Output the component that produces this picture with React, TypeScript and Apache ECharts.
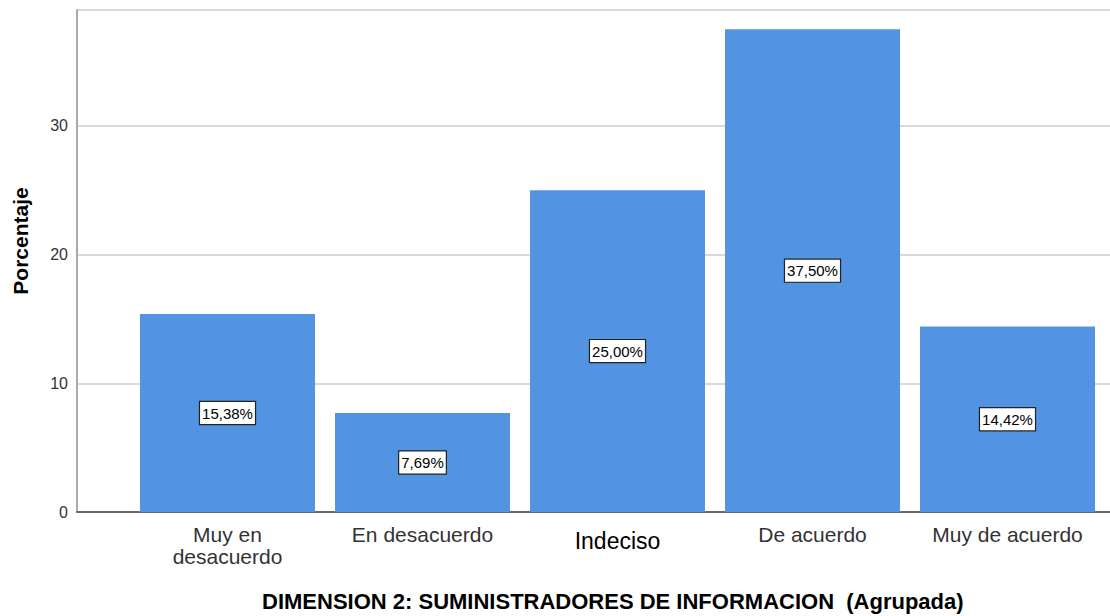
import React, { useEffect, useRef } from "react";
import * as echarts from "echarts";

const categories = ["Muy en\ndesacuerdo", "En desacuerdo", "Indeciso", "De acuerdo", "Muy de acuerdo"];
const values = [15.38, 7.69, 25.0, 37.5, 14.42];
const labels = ["15,38%", "7,69%", "25,00%", "37,50%", "14,42%"];
const yTicks = [0, 10, 20, 30];
const titleText = "DIMENSION 2: SUMINISTRADORES DE INFORMACION  (Agrupada)";
const yName = "Porcentaje";

export default function App() {
  const ref = useRef<HTMLDivElement>(null);
  useEffect(() => {
    if (!ref.current) return;
    const chart = echarts.init(ref.current, null, { renderer: "svg" });
    const font = "'Liberation Sans', Arial, sans-serif";
    chart.setOption({
      animation: false,
      textStyle: { fontFamily: font },
      title: {
        text: titleText,
        left: 262,
        top: 590,
        padding: 0,
        textStyle: { fontSize: 22, fontWeight: "bold", color: "#000", fontFamily: font },
      },
      graphic: [
        {
          type: "text",
          x: 20,
          y: 241,
          rotation: Math.PI / 2,
          style: {
            text: yName,
            font: "bold 21px 'Liberation Sans', Arial, sans-serif",
            fill: "#000",
            align: "center",
            verticalAlign: "middle",
          },
        },
      ],
      grid: [
        { left: 77, right: 0, top: 10, bottom: 104 },
        { left: 130, right: 5, top: 10, bottom: 104 },
      ],
      xAxis: [
        {
          gridIndex: 0,
          type: "value",
          min: 0,
          max: 1,
          axisLine: { show: true, onZero: false, lineStyle: { color: "#444", width: 1.5 } },
          axisTick: { show: false },
          axisLabel: { show: false },
          splitLine: { show: false },
        },
        {
          gridIndex: 1,
          type: "category",
          data: categories,
          axisLine: { show: false },
          axisTick: { show: false },
          axisLabel: {
            interval: 0,
            margin: 11,
            fontSize: 21,
            color: "#333",
            lineHeight: 22,
            fontFamily: font,
            formatter: (v: string) => (v === "Indeciso" ? "{b|" + v + "}" : v),
            rich: {
              b: { fontSize: 23, color: "#000", padding: [14, 0, 0, 0], fontFamily: font },
            },
          },
        },
      ],
      yAxis: [
        {
          gridIndex: 0,
          type: "value",
          min: 0,
          max: 39,
          interval: 10,
          axisLine: { show: true, lineStyle: { color: "#aaa", width: 2 } },
          axisTick: { show: false },
          axisLabel: {
            fontSize: 16,
            color: "#333",
            margin: 9,
            formatter: (v: number) => (yTicks.includes(v) ? String(v) : ""),
          },
          splitLine: { show: true, lineStyle: { color: "#ccc", width: 1.5 } },
        },
        {
          gridIndex: 1,
          type: "value",
          min: 0,
          max: 39,
          interval: 10,
          show: false,
          splitLine: { show: false },
        },
      ],
      series: [
        {
          type: "bar",
          xAxisIndex: 1,
          yAxisIndex: 1,
          data: values,
          barWidth: 175,
          itemStyle: { color: "#5294E2" },
          label: {
            show: true,
            position: "inside",
            formatter: (p: any) => labels[p.dataIndex],
            fontSize: 15,
            color: "#000",
            backgroundColor: "#fff",
            borderColor: "#222",
            borderWidth: 1.2,
            padding: [4, 2, 3, 2],
            fontFamily: font,
          },
        },
      ],
    });
    return () => chart.dispose();
  }, []);
  return <div ref={ref} style={{ width: 1110, height: 616, position: "absolute", left: 0, top: 0 }} />;
}
